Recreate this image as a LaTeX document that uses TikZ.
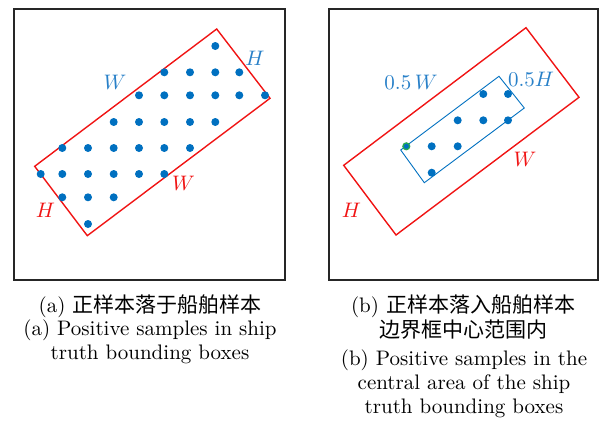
\documentclass[tikz,border=0pt]{standalone}
\usepackage{fontspec}
\newfontfamily\cjk{Noto Sans CJK SC}
\definecolor{boxred}{RGB}{240,20,20}
\definecolor{dotblue}{RGB}{0,112,192}
\definecolor{lblblue}{RGB}{40,128,200}
\definecolor{dotgreen}{RGB}{40,170,80}
\tikzset{
  frame/.style={draw=black!85, line width=1.1pt},
  redbox/.style={draw=boxred, line width=1.4pt, line join=miter},
  bluebox/.style={draw=dotblue, line width=0.9pt},
  sample/.style={fill=dotblue},
  redlbl/.style={text=boxred, scale=2.1, inner sep=0pt},
  bluelbl/.style={text=lblblue, scale=2.1, inner sep=0pt},
  captxt/.style={scale=2.1, inner sep=0pt, font=\fontsize{10}{12}\selectfont}
}
\begin{document}
\begin{tikzpicture}[x=1pt,y=-1pt]
\useasboundingbox (0,0) rectangle (599,423);
% ---------- panel (a)
\draw[frame] (14,9) rectangle (285,280);
\draw[redbox] (34.7,166.3) -- (216.7,29) -- (270,98.3) -- (87.3,235.7) -- cycle;
\foreach \x/\y in {215.3/46,
  164.3/72.3,190/72.3,215.3/72.3,239.3/72.3,
  139/95.3,164.3/95.3,190/95.3,215.3/95.3,239.3/95.3,265/95.3,
  113.7/122,139/122,164.3/122,190/122,215.3/122,
  62.3/148,88/148,113.7/148,139/148,164.3/148,190/148,
  40.7/174,62.3/174,88/174,113.7/174,139/174,164.3/174,
  62.3/197.3,88/197.3,113.7/197.3,
  88/224}
  \fill[sample] (\x,\y) circle (4);
\node[bluelbl] (aW) at (115,82) {$W$};
\node[bluelbl] (aH) at (255,58) {$H$};
\node[redlbl] (aWr) at (183.5,183) {$W$};
\node[redlbl] (aHr) at (45.5,210) {$H$};
% ---------- panel (b)
\draw[frame] (329,9) rectangle (598,280);
\draw[redbox] (343.7,165.3) -- (526,27.7) -- (579,97.3) -- (396,235) -- cycle;
\draw[bluebox] (400.7,150) -- (499,76.3) -- (524.3,108) -- (424.3,182.7) -- cycle;
\foreach \x/\y in {483.3/94,508/94,457.7/120.3,483.3/120.3,508/120.3,
  431.7/146.3,457.7/146.3,431.7/172.7}
  \fill[sample] (\x,\y) circle (4);
\filldraw[fill=dotblue, draw=dotgreen, line width=1.3pt] (406.3,146.3) circle (3.4);
\node[bluelbl] (bW) at (411,82) {$0.5\,W$};
\node[bluelbl] (bH) at (531,79) {$0.5H$};
\node[redlbl] (bWr) at (525,159) {$W$};
\node[redlbl] (bHr) at (351.5,210.5) {$H$};
% ---------- captions
\node[captxt] (ca1) at (150,306) {(a) {\cjk 正样本落于船舶样本}};
\node[captxt] (ca2) at (150,330) {(a) Positive samples in ship};
\node[captxt] (ca3) at (150,354) {truth bounding boxes};
\node[captxt] (cb1) at (463,306) {(b) {\cjk 正样本落入船舶样本}};
\node[captxt] (cb2) at (463,330) {\cjk 边界框中心范围内};
\node[captxt] (cb3) at (464,360) {(b) Positive samples in the};
\node[captxt] (cb4) at (464,384) {central area of the ship};
\node[captxt] (cb5) at (464,408) {truth bounding boxes};
\end{tikzpicture}
\end{document}
